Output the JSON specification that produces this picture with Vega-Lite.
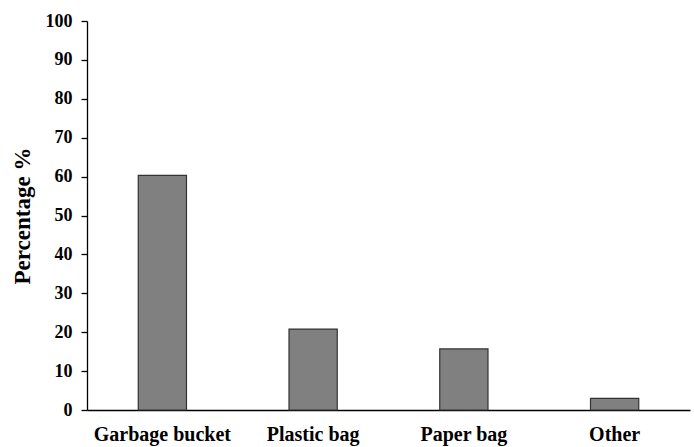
{
  "$schema": "https://vega.github.io/schema/vega-lite/v6.json",
  "autosize": "none",
  "width": 603,
  "height": 389,
  "padding": {"left": 87, "top": 21, "right": 4, "bottom": 37},
  "background": "white",
  "config": {
    "view": {"stroke": null},
    "font": "Liberation Serif",
    "axis": {"grid": false, "domainColor": "black", "domainWidth": 1.3, "tickColor": "black", "labelColor": "black", "titleColor": "black", "labelFont": "Liberation Serif", "titleFont": "Liberation Serif", "labelFontWeight": "bold", "titleFontWeight": "bold"}
  },
  "data": {
    "values": [
      {"category": "Garbage bucket", "percentage": 60.3},
      {"category": "Plastic bag", "percentage": 20.8},
      {"category": "Paper bag", "percentage": 15.7},
      {"category": "Other", "percentage": 3.0}
    ]
  },
  "mark": {"type": "bar", "fill": "#808080", "stroke": "#333333", "strokeWidth": 1.2},
  "encoding": {
    "x": {
      "field": "category", "type": "nominal", "sort": null,
      "scale": {"paddingInner": 0.68, "paddingOuter": 0.34},
      "axis": {"title": null, "labelAngle": 0, "ticks": false, "labelFontSize": 20, "labelPadding": 14}
    },
    "y": {
      "field": "percentage", "type": "quantitative",
      "scale": {"domain": [0, 100], "nice": false},
      "axis": {"title": "Percentage %", "values": [0,10,20,30,40,50,60,70,80,90,100], "tickSize": 6, "tickWidth": 1.3, "labelFontSize": 18, "labelPadding": 9, "titleFontSize": 23, "titlePadding": 11}
    }
  }
}
